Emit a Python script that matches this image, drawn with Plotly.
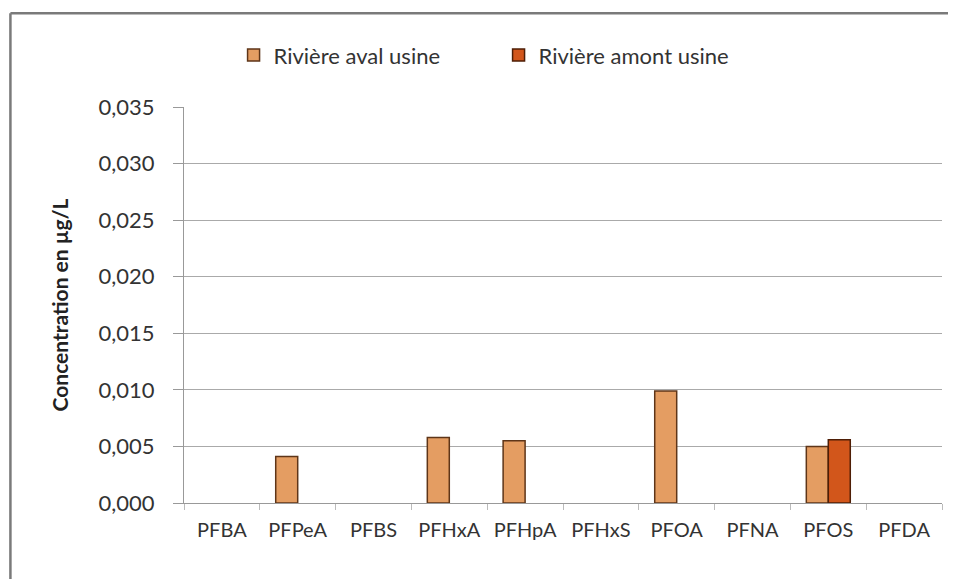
import plotly.graph_objects as go

categories = ["PFBA", "PFPeA", "PFBS", "PFHxA", "PFHpA", "PFHxS", "PFOA", "PFNA", "PFOS", "PFDA"]
aval = [None, 0.0041, None, 0.0058, 0.0055, None, 0.0099, None, 0.0050, None]
amont = [None, None, None, None, None, None, None, None, 0.0056, None]
y_ticks = [0.000, 0.005, 0.010, 0.015, 0.020, 0.025, 0.030, 0.035]

FONT = "Lato, 'Open Sans', sans-serif"

fig = go.Figure()
fig.add_trace(go.Bar(
    x=categories, y=aval, name="Rivière aval usine",
    marker=dict(color="#E49D62", line=dict(color="#5E3518", width=1.5)),
))
fig.add_trace(go.Bar(
    x=categories, y=amont, name="Rivière amont usine",
    marker=dict(color="#D2561B", line=dict(color="#4E1E06", width=1.5)),
))

border = dict(color="#7a7a7a", width=2.5)
fig.update_layout(
    width=956, height=579,
    margin=dict(l=176, r=22, t=99, b=84, autoexpand=False),
    paper_bgcolor="white", plot_bgcolor="white",
    barmode="group", bargap=0.42, bargroupgap=0.0,
    separators=",.",
    font=dict(family=FONT, size=22, color="#333333"),
    legend=dict(orientation="h", x=0.415, xanchor="center", y=1.131, yanchor="middle",
                font=dict(size=22, color="#333333"), traceorder="normal",
                itemwidth=30, entrywidth=220),
    showlegend=True,
    shapes=[
        dict(type="line", xref="paper", yref="paper", x0=-0.229, x1=1.1, y0=1.237, y1=1.237, line=border),
        dict(type="line", xref="paper", yref="paper", x0=-0.229, x1=-0.229, y0=-0.3, y1=1.237, line=border),
    ],
)
fig.update_yaxes(
    range=[0, 0.035], tickvals=y_ticks, tickformat=".3f",
    showgrid=True, gridcolor="#aaaaaa", gridwidth=1,
    showline=True, linecolor="#999999", linewidth=1,
    ticks="outside", ticklen=10, tickcolor="#999999",
    ticklabelstandoff=14,
    tickfont=dict(size=22, color="#333333"),
    title=dict(text="<b>Concentration en µg/L</b>", font=dict(size=21, color="#222222"), standoff=24),
    zeroline=False,
)
fig.update_xaxes(
    showline=True, linecolor="#999999", linewidth=1,
    ticks="outside", tickson="boundaries", ticklen=6, tickcolor="#bbbbbb",
    ticklabelstandoff=9, tickangle=0,
    tickfont=dict(size=20, color="#333333"),
)

fig.write_html("out.html")
